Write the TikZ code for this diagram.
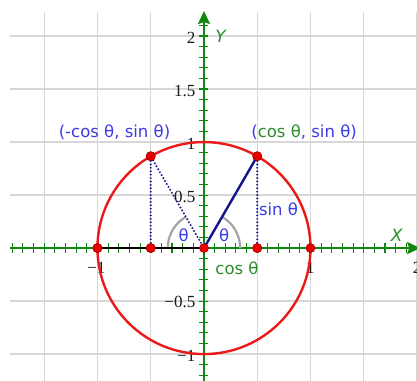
\documentclass[tikz,border=0pt]{standalone}
\usepackage{fontspec}
\setmainfont{DejaVu Sans}
\newfontfamily\numfont{Liberation Serif}
\usetikzlibrary{arrows.meta}
\definecolor{axgreen}{RGB}{15,135,15}
\definecolor{cosgreen}{RGB}{45,140,45}
\definecolor{lblblue}{RGB}{60,60,230}
\definecolor{navyline}{RGB}{20,20,140}
\definecolor{circred}{RGB}{235,25,25}
\definecolor{gridgray}{RGB}{215,215,215}
\definecolor{arcgray}{RGB}{165,165,165}
\begin{document}
\begin{tikzpicture}[x=106.5pt,y=106pt,
  gridline/.style={gridgray, line width=1.3pt},
  axisline/.style={axgreen, line width=2.3pt, -{Stealth[length=13pt,width=12pt,inset=2pt]}},
  tickmark/.style={axgreen, line width=1.1pt},
  ticklabel/.style={font=\numfont\fontsize{17}{17}\selectfont, text=black!90, inner sep=1pt},
  lbl/.style={font=\fontsize{16.5}{16.5}\selectfont, text=lblblue, inner sep=0pt},
  axlbl/.style={font=\fontsize{17}{17}\selectfont\itshape, text=cosgreen, inner sep=0pt},
  pt/.style={circle, fill=red!92!black, draw=red!65!black, line width=0.6pt, minimum size=9pt, inner sep=0pt},
  dotline/.style={navyline, line width=2.2pt, dash pattern=on 0pt off 3.4pt, line cap=round},
  arcline/.style={arcgray, line width=2.2pt},
]
\useasboundingbox (-1.915,-1.245) rectangle (2.0,2.34);
\fill[white] (-1.915,-1.245) rectangle (2.0,2.34);
% grid
\foreach \x in {-1.5,-1,-0.5,0.5,1,1.5,2}
  \draw[gridline] (\x,-1.3) -- (\x,2.226);
\foreach \y in {-1,-0.5,0.5,1,1.5,2}
  \draw[gridline] (-1.82,\y) -- (2.05,\y);
% coordinates
\coordinate (xs) at (-1.82,0);
\coordinate (xe) at (2.03,0);
\coordinate (ys) at (0,-1.3);
\coordinate (ye) at (0,2.236);
% tick labels
\node[ticklabel, anchor=east] (t2) at (-0.07,1.98) {2};
\node[ticklabel, anchor=east] (t15) at (-0.07,1.48) {1.5};
\node[ticklabel, anchor=east] (t1) at (-0.07,0.98) {1};
\node[ticklabel, anchor=east] (t05) at (-0.07,0.48) {0.5};
\node[ticklabel, anchor=east] (tm05) at (-0.07,-0.51) {−0.5};
\node[ticklabel, anchor=east] (tm1) at (-0.07,-1.02) {−1};
\node[ticklabel] (xm1) at (-1.01,-0.19) {−1};
\node[ticklabel] (x1) at (1.0,-0.19) {1};
\node[ticklabel] (x2) at (2.0,-0.19) {2};
% ticks
\foreach \i in {-18,...,19}
  \draw[tickmark] (\i/10,-0.045) -- (\i/10,0.045);
\foreach \i in {-12,...,21}
  \draw[tickmark] (-0.042,\i/10) -- (0.042,\i/10);
% axes
\draw[axisline] (xs) -- (xe);
\draw[axisline] (ys) -- (ye);
\node[axlbl] (Y) at (0.155,2.0) {Y};
\node[axlbl] (X) at (1.81,0.12) {X};
% circle and points
\coordinate (O) at (0,0);
\draw[circred, line width=2.4pt] (O) circle[radius=1];
\draw[arcline] (0.34,0) arc[start angle=0, end angle=60, radius=0.34];
\draw[arcline] (-0.34,0) arc[start angle=180, end angle=120, radius=0.34];
\node[pt] (A) at (-1,0) {};
\node[pt] (B) at (1,0) {};
\node[pt] (Qx) at (-0.5,0) {};
\node[pt] (Px) at (0.5,0) {};
\node[pt] (Pt) at (0.5,0.866) {};
\node[pt] (Qt) at (-0.5,0.866) {};
\draw[black, line width=2.3pt] (A.center) -- (O);
\draw[navyline, line width=2.4pt] (O) -- (Pt.center);
\draw[dotline] (Pt) -- (Px);
\draw[dotline] (Qt) -- (Qx);
\draw[dotline] (Qt) -- (O);
\node[pt] (Op) at (O) {};
\node[pt] at (A) {};
\node[pt] at (Qx) {};
\node[pt] at (Px) {};
\node[pt] at (Pt) {};
\node[pt] at (Qt) {};
% labels
\node[lbl] (lp) at (0.94,1.095) {(\textcolor{cosgreen}{cos θ}, sin θ)};
\node[lbl] (lq) at (-0.84,1.09) {(-cos θ, sin θ)};
\node[lbl] (ls) at (0.70,0.37) {sin θ};
\node[lbl, text=cosgreen] (lc) at (0.31,-0.19) {cos θ};
\node[lbl] (th1) at (0.19,0.12) {θ};
\node[lbl] (th2) at (-0.19,0.12) {θ};
\end{tikzpicture}
\end{document}
